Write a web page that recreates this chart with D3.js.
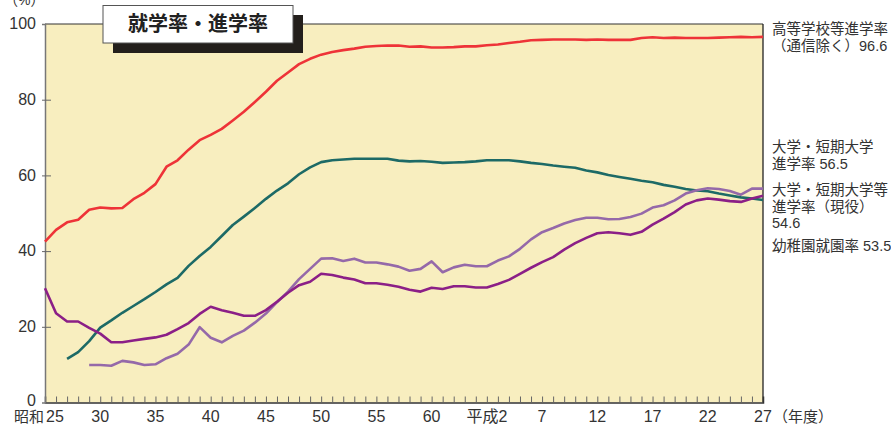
<!DOCTYPE html>
<html>
<head>
<meta charset="utf-8">
<script src="https://cdn.jsdelivr.net/npm/d3@7"></script>
<style>
  html, body { margin: 0; padding: 0; background: #fff; }
  svg text { font-family: "Liberation Sans", "Noto Sans CJK JP", sans-serif; fill: #333; }
</style>
</head>
<body>
<div id="chart"></div>
<script>
// years on the x axis
const startYear = 1950;
const endYear = 2015;

// tick labels (昭和 / 平成)
const xTickYears = [1950, 1955, 1960, 1965, 1970, 1975, 1980, 1985, 1990, 1995, 2000, 2005, 2010, 2015];
const xTickLabels = ['25', '30', '35', '40', '45', '50', '55', '60', '平成2', '7', '12', '17', '22', '27'];
const yTicks = [0, 20, 40, 60, 80, 100];

// 高等学校等進学率（通信除く） 1950-2015
const highSchool = [42.5, 45.6, 47.6, 48.3, 50.9, 51.5, 51.3, 51.4, 53.7, 55.4,
  57.7, 62.3, 64.0, 66.8, 69.3, 70.7, 72.3, 74.5, 76.8, 79.4,
  82.1, 85.0, 87.2, 89.4, 90.8, 91.9, 92.6, 93.1, 93.5, 94.0,
  94.2, 94.3, 94.3, 94.0, 94.1, 93.8, 93.8, 93.9, 94.1, 94.1,
  94.4, 94.6, 95.0, 95.3, 95.7, 95.8, 95.9, 95.9, 95.9, 95.8,
  95.9, 95.8, 95.8, 95.8, 96.3, 96.5, 96.3, 96.4, 96.3, 96.3,
  96.3, 96.4, 96.5, 96.6, 96.5, 96.6];

// 幼稚園就園率 1952-2015
const kinder = [11.5, 13.3, 16.2, 19.8, 21.7, 23.7, 25.5, 27.3,
  29.2, 31.2, 32.9, 36.1, 38.7, 41.1, 44.0, 46.9, 49.1, 51.4,
  53.8, 56.0, 57.9, 60.3, 62.1, 63.5, 64.0, 64.2, 64.4, 64.4,
  64.4, 64.4, 63.9, 63.7, 63.8, 63.6, 63.3, 63.4, 63.5, 63.7,
  64.0, 64.0, 64.0, 63.7, 63.3, 63.0, 62.6, 62.3, 62.0, 61.3,
  60.8, 60.1, 59.6, 59.1, 58.6, 58.2, 57.5, 57.0, 56.4, 56.0,
  55.8, 55.2, 54.7, 54.2, 53.9, 53.5];

// 大学・短期大学進学率 1954-2015
const univ = [9.9, 9.9, 9.7, 11.0, 10.6, 9.9,
  10.1, 11.7, 12.9, 15.3, 19.9, 17.1, 15.9, 17.6, 19.0, 21.1,
  23.5, 26.5, 29.3, 32.6, 35.3, 38.0, 38.1, 37.4, 38.0, 37.0,
  37.0, 36.5, 35.9, 34.8, 35.3, 37.3, 34.4, 35.7, 36.4, 36.0,
  36.0, 37.5, 38.6, 40.6, 43.1, 45.0, 46.1, 47.3, 48.2, 48.8,
  48.8, 48.4, 48.5, 49.0, 49.9, 51.5, 52.1, 53.4, 55.2, 56.1,
  56.6, 56.4, 55.9, 54.9, 56.5, 56.5];

// 大学・短期大学等進学率（現役） 1950-2015
const univCurrent = [30.2, 23.6, 21.4, 21.4, 19.7, 18.2, 15.9, 15.9, 16.4, 16.8,
  17.2, 17.9, 19.4, 21.0, 23.4, 25.3, 24.4, 23.7, 22.9, 22.9,
  24.4, 26.6, 29.0, 31.0, 31.9, 34.0, 33.7, 33.0, 32.5, 31.5,
  31.5, 31.1, 30.6, 29.8, 29.3, 30.3, 30.0, 30.7, 30.7, 30.4,
  30.4, 31.3, 32.4, 34.0, 35.6, 37.1, 38.4, 40.4, 42.1, 43.5,
  44.7, 45.0, 44.7, 44.3, 45.1, 47.0, 48.6, 50.3, 52.3, 53.4,
  53.9, 53.6, 53.2, 53.0, 53.9, 54.6];

const series = [
  { name: 'kinder', first: 1952, values: kinder, color: '#1d6a66' },
  { name: 'univ', first: 1954, values: univ, color: '#9569a9' },
  { name: 'univCurrent', first: 1950, values: univCurrent, color: '#8b1f87' },
  { name: 'highSchool', first: 1950, values: highSchool, color: '#ee3338' }
];

// right-hand labels
const endLabels = [
  { lines: ['高等学校等進学率', '（通信除く）96.6'], y: 34 },
  { lines: ['大学・短期大学', '進学率 56.5'], y: 152 },
  { lines: ['大学・短期大学等', '進学率（現役）', '54.6'], y: 195 },
  { lines: ['幼稚園就園率 53.5'], y: 251 }
];

const width = 891, height = 425;
const plot = { left: 45, right: 763, top: 24, bottom: 402.5 };

const svg = d3.select('#chart').append('svg')
  .attr('width', width)
  .attr('height', height);

const x = d3.scaleLinear().domain([startYear, endYear]).range([plot.left, plot.right]);
const y = d3.scaleLinear().domain([0, 100]).range([plot.bottom, plot.top]);

// plot background
svg.append('rect')
  .attr('x', plot.left).attr('y', plot.top)
  .attr('width', plot.right - plot.left).attr('height', plot.bottom - plot.top)
  .attr('fill', '#f8eebf');

// frame
svg.append('line').attr('x1', plot.left).attr('x2', plot.right).attr('y1', plot.top).attr('y2', plot.top)
  .attr('stroke', '#333').attr('stroke-width', 1.2);
svg.append('line').attr('x1', plot.right).attr('x2', plot.right).attr('y1', plot.top).attr('y2', plot.bottom)
  .attr('stroke', '#222').attr('stroke-width', 1.3);

// yearly minor ticks, pointing up into the plot
const xAxis = d3.axisBottom(x)
  .tickValues(d3.range(startYear + 1, endYear))
  .tickSize(-6)
  .tickFormat('');
svg.append('g')
  .attr('transform', `translate(0,${plot.bottom})`)
  .call(xAxis)
  .call(g => g.select('.domain').attr('stroke', '#333').attr('stroke-width', 1.5))
  .call(g => g.selectAll('.tick line').attr('stroke', '#666').attr('stroke-width', 1));

// left axis
const yAxis = d3.axisLeft(y)
  .tickValues(yTicks.filter(d => d > 0 && d < 100))
  .tickSize(3)
  .tickFormat('');
svg.append('g')
  .attr('transform', `translate(${plot.left},0)`)
  .call(yAxis)
  .call(g => g.select('.domain').attr('stroke', '#777').attr('stroke-width', 1.5))
  .call(g => g.selectAll('.tick line').attr('x2', 6).attr('x1', -3).attr('stroke', '#666'));

svg.append('g')
  .selectAll('text')
  .data(yTicks)
  .enter().append('text')
    .attr('x', 36)
    .attr('y', d => y(d) - (d === 0 ? 2 : 0))
    .attr('dy', '0.32em')
    .attr('text-anchor', 'end')
    .attr('font-size', 16)
    .text(d => d);

svg.append('text')
  .attr('x', 4).attr('y', 5)
  .attr('font-size', 14)
  .text('（%）');

// x labels
svg.append('g')
  .selectAll('text')
  .data(xTickYears)
  .enter().append('text')
    .attr('x', (d, i) => i === 0 ? x(d) + 1 : x(d))
    .attr('y', 422)
    .attr('text-anchor', (d, i) => i === 0 ? 'start' : 'middle')
    .attr('font-size', 16)
    .text((d, i) => xTickLabels[i]);

svg.append('text')
  .attr('x', x(startYear) - 1).attr('y', 422)
  .attr('text-anchor', 'end')
  .attr('font-size', 15)
  .text('昭和');

svg.append('text')
  .attr('x', x(endYear) + 10).attr('y', 422)
  .attr('font-size', 15)
  .text('（年度）');

// lines
const line = d3.line()
  .x(d => x(d.year))
  .y(d => y(d.value));

svg.append('g')
  .selectAll('path')
  .data(series)
  .enter().append('path')
    .attr('fill', 'none')
    .attr('stroke', d => d.color)
    .attr('stroke-width', 2.6)
    .attr('stroke-linejoin', 'round')
    .attr('d', d => line(d.values.map((v, i) => ({ year: d.first + i, value: v }))));

// end labels
endLabels.forEach(lab => {
  const t = svg.append('text')
    .attr('x', 772)
    .attr('y', lab.y)
    .attr('font-size', 14.5);
  lab.lines.forEach((s, i) => {
    t.append('tspan')
      .attr('x', 772)
      .attr('dy', i === 0 ? 0 : 16.5)
      .text(s);
  });
});

// title box with shadow
svg.append('rect')
  .attr('x', 113).attr('y', 15)
  .attr('width', 190).attr('height', 38)
  .attr('fill', '#231f1c');
svg.append('rect')
  .attr('x', 103).attr('y', 5.5)
  .attr('width', 190).attr('height', 37.5)
  .attr('fill', '#fff')
  .attr('stroke', '#555')
  .attr('stroke-width', 1);
svg.append('text')
  .attr('x', 198).attr('y', 31)
  .attr('text-anchor', 'middle')
  .attr('font-size', 20)
  .attr('font-weight', 'bold')
  .style('fill', '#222')
  .text('就学率・進学率');
</script>
</body>
</html>
